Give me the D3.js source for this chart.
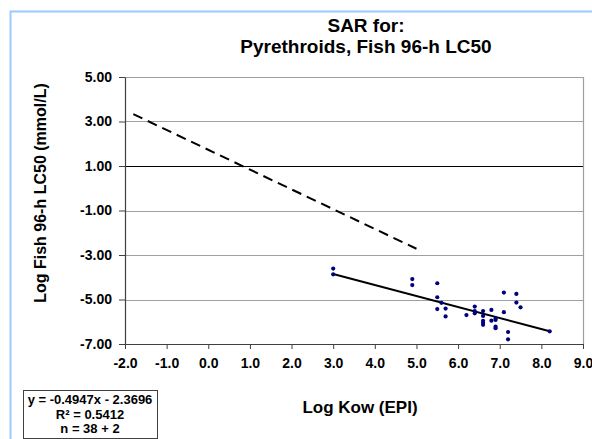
<!DOCTYPE html>
<html>
<head>
<meta charset="utf-8">
<script src="https://cdn.jsdelivr.net/npm/d3@7"></script>
<style>
  body { margin: 0; background: #fff; }
  text { font-family: "Liberation Sans", Arial, sans-serif; }
</style>
</head>
<body>
<div id="chart"></div>
<script>
// Data
const titleLines = ['SAR for:', 'Pyrethroids, Fish 96-h LC50']
const xTicks = [-2, -1, 0, 1, 2, 3, 4, 5, 6, 7, 8, 9]
const yTicks = [5, 3, 1, -1, -3, -5, -7]
const refY = 1

const logKow = [3.0, 3.0, 4.9, 4.9, 5.5, 5.5, 5.6, 5.5, 5.7, 5.7, 6.2,
    6.4, 6.4, 6.4, 6.6, 6.6, 6.6, 6.6, 6.6, 6.8, 6.8, 6.9, 6.9, 6.9, 6.9,
    7.1, 7.1, 7.2, 7.2, 7.4, 7.4, 7.5, 8.2]
const logLC50 = [-3.61, -3.87, -4.08, -4.35, -4.27, -4.90, -5.15, -5.43, -5.41, -5.76, -5.70,
    -5.32, -5.52, -5.62, -5.52, -5.74, -5.96, -6.05, -6.14, -5.47, -5.95, -5.86, -5.92, -6.22, -6.29,
    -4.69, -5.57, -6.46, -6.79, -4.75, -5.14, -5.35, -6.43]

// fitted line y = -0.4947x - 2.3696, end points
const fitX = [3.0, 8.2]
const fitY = [-3.85, -6.43]
// dashed reference line end points
const refLineX = [-1.8, 5.0]
const refLineY = [3.33, -2.72]

const eqLines = ['y = -0.4947x - 2.3696', 'R\u00b2 = 0.5412', 'n = 38 + 2']

const W = 592, H = 439
const m = {left: 125, right: 9, top: 77, bottom: 95}
const w = W - m.left - m.right
const h = H - m.top - m.bottom

const svg = d3.select('#chart')
    .append('svg')
    .attr('width', W)
    .attr('height', H)

// outer chart border
svg.append('rect')
    .attr('x', 10.5).attr('y', 11.5)
    .attr('width', W).attr('height', H)
    .attr('fill', 'none')
    .attr('stroke', '#99ccff')
    .attr('stroke-width', 2)

const g = svg.append('g')
    .attr('transform', `translate(${m.left}, ${m.top})`)

const x = d3.scaleLinear().domain([-2, 9]).range([0, w])
const y = d3.scaleLinear().domain([-7, 5]).range([h, 0])

// gridlines
g.selectAll('.grid')
    .data(yTicks.filter(d => d !== -7))
    .enter().append('line')
    .attr('x1', 0).attr('x2', w)
    .attr('y1', d => Math.round(y(d)) + 0.5)
    .attr('y2', d => Math.round(y(d)) + 0.5)
    .attr('stroke', d => d === refY ? '#000' : '#a0a0a0')
    .attr('stroke-width', 1.2)

// right border
g.append('line')
    .attr('x1', w + 0.5).attr('x2', w + 0.5)
    .attr('y1', 0).attr('y2', h)
    .attr('stroke', '#a0a0a0')
    .attr('stroke-width', 1.2)

// Axes
const xAxis = d3.axisBottom(x)
    .tickValues(xTicks)
    .tickSize(5)
    .tickSizeOuter(0)
    .tickPadding(9)
    .tickFormat(d => d.toFixed(1))

const yAxis = d3.axisLeft(y)
    .tickValues(yTicks)
    .tickSize(6)
    .tickSizeOuter(0)
    .tickPadding(7)
    .tickFormat(d => d.toFixed(2))

const xg = g.append('g')
    .attr('transform', `translate(0, ${h})`)
    .call(xAxis)

const yg = g.append('g').call(yAxis)

;[xg, yg].forEach(a => {
    a.select('.domain').attr('stroke', '#404040').attr('stroke-width', 1.2)
    a.selectAll('.tick line').attr('stroke', '#404040')
    a.selectAll('text')
        .attr('font-size', '14px')
        .attr('font-weight', 'bold')
        .attr('fill', '#000')
        .style('font-family', '"Liberation Sans", Arial, sans-serif')
})

// dashed line
g.append('line')
    .attr('x1', x(refLineX[0])).attr('y1', y(refLineY[0]))
    .attr('x2', x(refLineX[1])).attr('y2', y(refLineY[1]))
    .attr('stroke', '#000')
    .attr('stroke-width', 2)
    .attr('stroke-dasharray', '10,6')

// fitted line
g.append('line')
    .attr('x1', x(fitX[0])).attr('y1', y(fitY[0]))
    .attr('x2', x(fitX[1])).attr('y2', y(fitY[1]))
    .attr('stroke', '#000')
    .attr('stroke-width', 2)

// points
g.selectAll('.pt')
    .data(logKow.map((d, i) => [d, logLC50[i]]))
    .enter().append('circle')
    .attr('cx', d => x(d[0]))
    .attr('cy', d => y(d[1]))
    .attr('r', 2.1)
    .attr('fill', '#000080')

// title
svg.selectAll('.title')
    .data(titleLines)
    .enter().append('text')
    .attr('x', 366)
    .attr('y', (d, i) => 32 + i * 21)
    .attr('text-anchor', 'middle')
    .attr('font-size', '19px')
    .attr('font-weight', 'bold')
    .text(d => d)

// axis titles
svg.append('text')
    .attr('transform', 'translate(46, 193) rotate(-90)')
    .attr('text-anchor', 'middle')
    .attr('font-size', '16px')
    .attr('font-weight', 'bold')
    .text('Log Fish 96-h LC50 (mmol/L)')

svg.append('text')
    .attr('x', 360)
    .attr('y', 413)
    .attr('text-anchor', 'middle')
    .attr('font-size', '17px')
    .attr('font-weight', 'bold')
    .text('Log Kow (EPI)')

// equation box
svg.append('rect')
    .attr('x', 23.5).attr('y', 390.5)
    .attr('width', 134).attr('height', 48)
    .attr('fill', '#fff')
    .attr('stroke', '#404040')
    .attr('stroke-width', 1)

svg.selectAll('.eq')
    .data(eqLines)
    .enter().append('text')
    .attr('x', 90)
    .attr('y', (d, i) => 404 + i * 14.5)
    .attr('text-anchor', 'middle')
    .attr('font-size', '13px')
    .attr('font-weight', 'bold')
    .text(d => d)
</script>
</body>
</html>
